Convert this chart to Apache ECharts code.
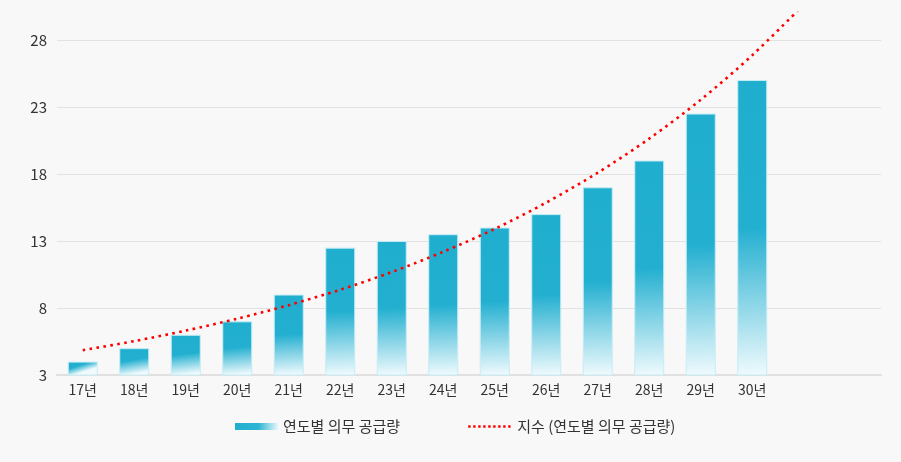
<!DOCTYPE html>
<html>
<head>
<meta charset="utf-8">
<script src="https://cdn.jsdelivr.net/npm/echarts@6/dist/echarts.min.js"></script>
<style>
html,body{margin:0;padding:0;background:#f8f8f8;}
#c{width:901px;height:462px;}
</style>
</head>
<body>
<div id="c"></div>
<script>
// Categories (two trailing empty slots on the axis)
const categories = ['17년','18년','19년','20년','21년','22년','23년','24년','25년','26년','27년','28년','29년','30년','',''];
// Yearly mandatory supply (bars)
const supplyValues = [4, 5, 6, 7, 9, 12.5, 13, 13.5, 14, 15, 17, 19, 22.5, 25];
// Exponential trendline values (last one runs past the top and is clipped)
const trendValues = [4.85, 5.53, 6.31, 7.2, 8.21, 9.36, 10.68, 12.19, 13.9, 15.86, 18.09, 20.63, 23.53, 26.85, 30.62];
const yTicks = { min: 3, max: 30, interval: 5 };
const barName = '연도별 의무 공급량';
const lineName = '지수 (연도별 의무 공급량)';

const font = '"Noto Sans CJK KR", "Noto Sans", sans-serif';
const chart = echarts.init(document.getElementById('c'), null, {renderer: 'canvas'});

const barGradient = new echarts.graphic.LinearGradient(0, 0, 0.15, 1, [
  {offset: 0, color: '#20aecf'},
  {offset: 0.5, color: '#22afd0'},
  {offset: 1, color: '#effafd'}
]);
const legendGradient = new echarts.graphic.LinearGradient(0, 0, 1, 0.6, [
  {offset: 0, color: '#20aecf'},
  {offset: 0.55, color: '#2fb5d4'},
  {offset: 1, color: '#e6f7fb'}
]);

chart.setOption({
  backgroundColor: '#f8f8f8',
  animation: false,
  grid: {left: 57, right: 20, top: 13, bottom: 87, containLabel: false},
  legend: [
    {
      left: 230, top: 414,
      itemWidth: 43, itemHeight: 7,
      textStyle: {fontFamily: font, fontSize: 15, color: '#333'},
      data: [{name: barName, icon: 'rect', itemStyle: {color: legendGradient, borderWidth: 0}}]
    },
    {
      left: 462, top: 414,
      itemWidth: 44, itemHeight: 7,
      textStyle: {fontFamily: font, fontSize: 15, color: '#333'},
      data: [{name: lineName, itemStyle: {opacity: 0}, lineStyle: {color: '#ff0000', width: 2.4, type: [2.4, 2.6]}}]
    }
  ],
  xAxis: {
    type: 'category',
    data: categories,
    boundaryGap: true,
    axisTick: {show: false},
    axisLine: {show: true, lineStyle: {color: '#e0e0e0', width: 2}},
    axisLabel: {fontFamily: font, fontSize: 14, color: '#333', margin: 8, interval: 0},
    splitLine: {show: false}
  },
  yAxis: {
    type: 'value',
    min: yTicks.min, max: yTicks.max, interval: yTicks.interval,
    axisLine: {show: false},
    axisTick: {show: false},
    axisLabel: {fontFamily: font, fontSize: 15, color: '#333', margin: 10, showMaxLabel: false,
      formatter: function (v) { return v === yTicks.max ? '' : String(v); }},
    splitLine: {show: true, showMaxLine: false, lineStyle: {color: ['#e2e2e2','#e2e2e2','#e2e2e2','#e2e2e2','#e2e2e2','#e2e2e2','rgba(0,0,0,0)'], width: 1}}
  },
  series: [
    {
      name: barName,
      type: 'bar',
      data: supplyValues,
      barWidth: 30,
      itemStyle: {color: barGradient, borderColor: '#c6ecf5', borderWidth: 1},
      z: 2
    },
    {
      name: lineName,
      type: 'line',
      data: trendValues,
      smooth: 0.3,
      symbol: 'none',
      clip: true,
      lineStyle: {color: '#ff0000', width: 2.6, type: [2.6, 4.4]},
      itemStyle: {color: '#ff0000'},
      z: 5
    }
  ]
});
</script>
</body>
</html>
